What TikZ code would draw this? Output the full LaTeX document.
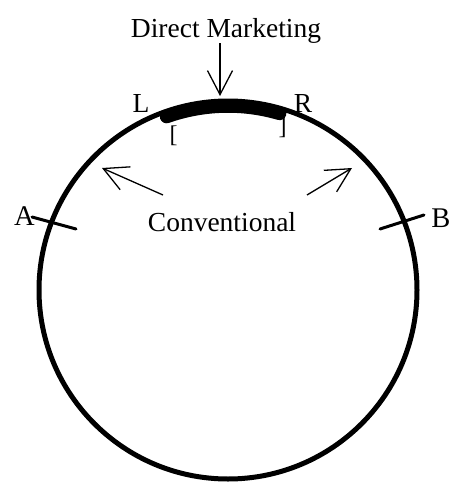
\documentclass[tikz,border=0pt]{standalone}
\usepackage{fontspec}
\setmainfont{Liberation Serif}
\usetikzlibrary{arrows.meta}

\tikzset{
  lab/.style={inner sep=0pt,anchor=base,font=\fontsize{27.5}{30}\selectfont},
  biglab/.style={lab,font=\fontsize{28.5}{31}\selectfont},
  brack/.style={lab,font=\fontsize{24}{26}\selectfont},
  ring/.style={line width=5pt},
  pointer/.style={line width=1.3pt,-{Straight Barb[length=24pt,width=25pt]}},
  tick/.style={line width=3pt,line cap=round}
}

\begin{document}
\begin{tikzpicture}[x=1pt,y=-1pt]
  \useasboundingbox (0,0) rectangle (455,485);
  % the market circle
  \draw[ring] (228,290) circle (189);
  % direct marketing segment
  \draw[line width=13.5pt,line cap=round] (228,290) ++(-109.5:184)
    arc[start angle=-109.5,end angle=-73.7,radius=184];
  \node[brack] (lbr) at (173.5,142.5) {[};
  \node[brack] (rbr) at (282.5,134) {]};
  \node[lab] (lL) at (141,112) {L};
  \node[lab] (lR) at (303,112) {R};
  % limits of the market
  \coordinate (a0) at (32,217);
  \coordinate (a1) at (76,229);
  \coordinate (b0) at (380,229);
  \coordinate (b1) at (424,215);
  \draw[tick] (a0) -- (a1);
  \draw[tick] (b0) -- (b1);
  \node[biglab] (lA) at (24.5,225) {A};
  \node[biglab] (lB) at (441,227) {B};
  % labels and pointers
  \node[lab] (dm) at (226,37) {Direct Marketing};
  \coordinate (dmtip) at (220,96);
  \draw[pointer] (dm.south -| dmtip) -- (dmtip);
  \node[lab] (conv) at (222,231) {Conventional};
  \coordinate (cl0) at (163,195);
  \coordinate (cl1) at (102,168);
  \coordinate (cr0) at (307,195);
  \coordinate (cr1) at (352,168);
  \draw[pointer] (cl0) -- (cl1);
  \draw[pointer] (cr0) -- (cr1);
\end{tikzpicture}
\end{document}
